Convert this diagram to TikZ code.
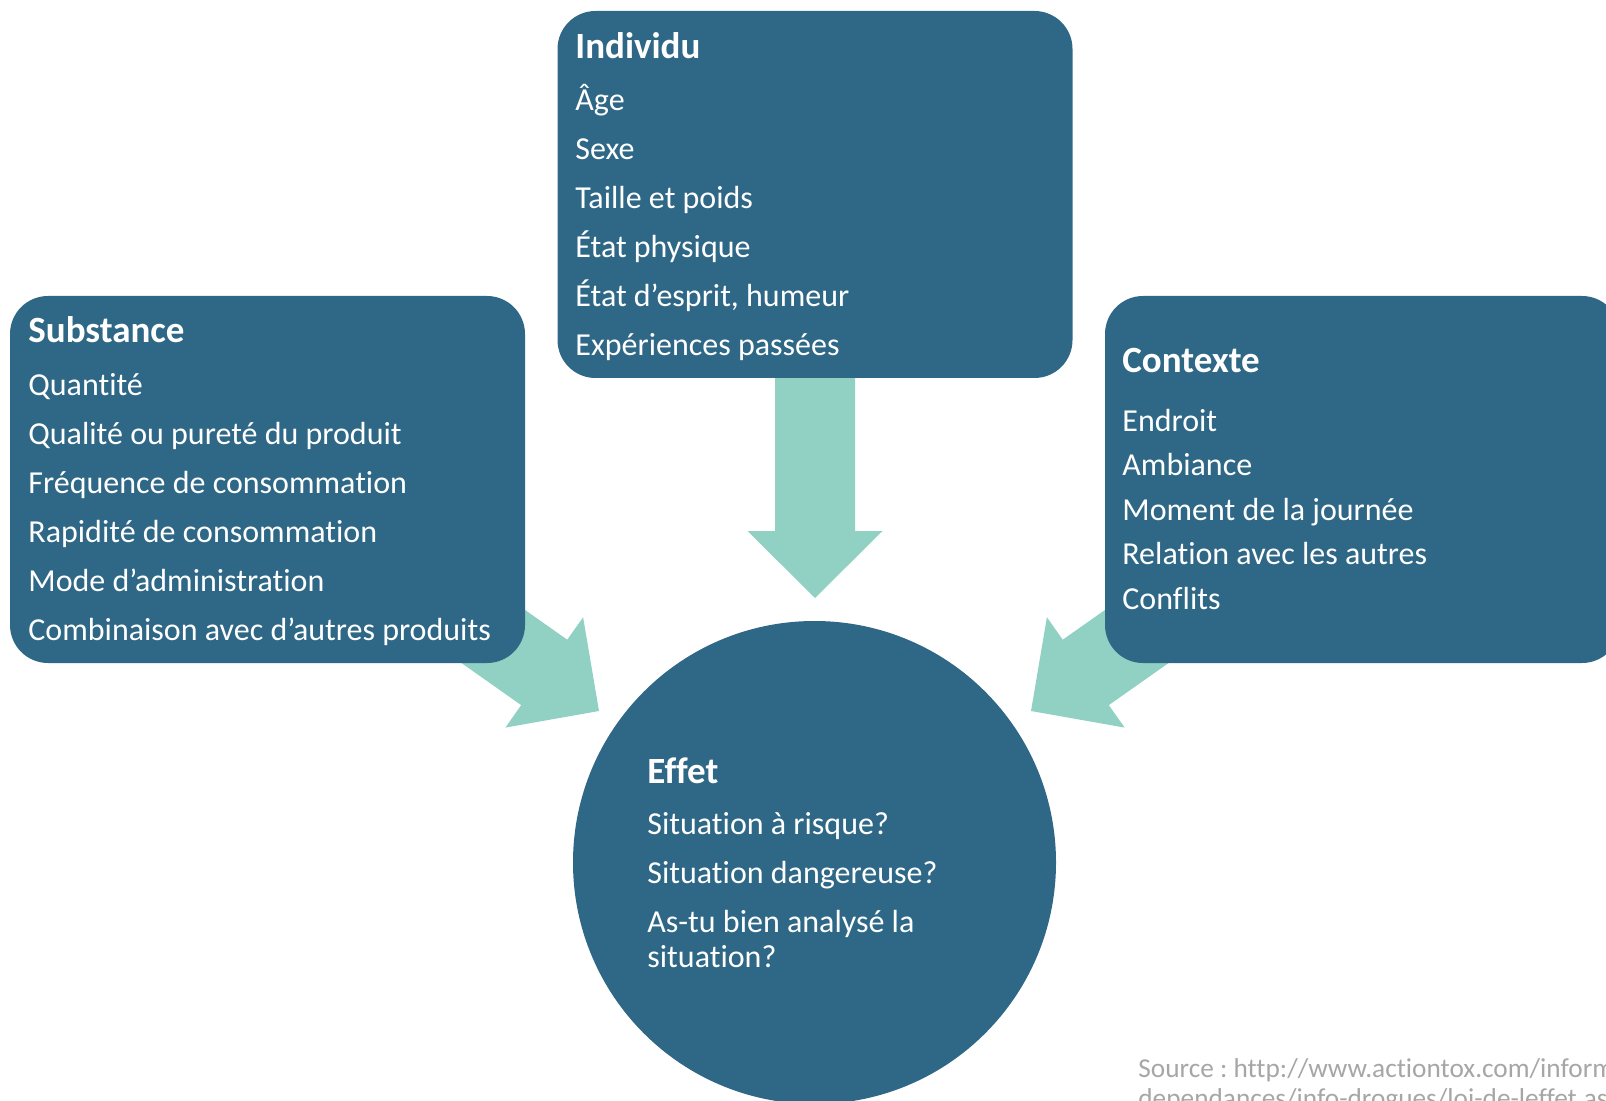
\documentclass[tikz,border=0pt]{standalone}
\usepackage{fontspec}
\setmainfont{Carlito}[Ligatures=NoCommon]
\frenchspacing
\usetikzlibrary{calc}
\definecolor{boxblue}{RGB}{47,104,134}
\definecolor{arrowteal}{RGB}{145,209,196}
\definecolor{srcgray}{RGB}{166,166,166}
\newcommand\ttl[1]{{\fontsize{18.5}{17.5}\selectfont\bfseries #1}}
\tikzset{panel/.style={rectangle, rounded corners=19pt, fill=boxblue, minimum width=257.5pt, minimum height=183.5pt, inner sep=0pt},
panel text/.style={anchor=base west, align=left, text=white, inner sep=0pt, font=\fontsize{16}{17.5}\selectfont},
%block arrows between panels and the effect
flow/.style={fill=arrowteal}}

\begin{document}
\begin{tikzpicture}[x=0.5pt, y=-0.5pt]

    \path[use as bounding box, clip] (0,0) rectangle (1606,1101);

    \coordinate (ind-s) at (815, 300);
    \coordinate (ind-t) at (815, 598);
    \coordinate (sub-s) at (396, 568);
    \coordinate (sub-t) at (599, 711);
    \coordinate (ctx-s) at (1234, 568);
    \coordinate (ctx-t) at (1031, 711);

    \foreach \s/\t in {ind-s/ind-t, sub-s/sub-t, ctx-s/ctx-t} {
    \coordinate (b) at ($(\t)!33.5pt!(\s)$);
    \fill[flow] ($(\s)!20pt!90:(\t)$) -- ($(b)!20pt!90:(\t)$) -- ($(b)!33.75pt!90:(\t)$) -- (\t)
        -- ($(b)!33.75pt!-90:(\t)$) -- ($(b)!20pt!-90:(\t)$) -- ($(\s)!20pt!-90:(\t)$) -- cycle;
    }

    \node[panel] (sub) at (267.5, 479.5) {};
    \node[panel] (ind) at (815, 194.5) {};
    \node[panel] (ctx) at (1362.5, 479.5) {};
    \node[circle, fill=boxblue, minimum size=241.5pt, inner sep=0pt] (eff) at (814.5, 862.5) {};

    % text nodes sit on the baseline of their last line
    \node[panel text] (sub-txt) at (28, 640) {\ttl{Substance}\\[9pt]
        Quantité\\[7pt] Qualité ou pureté du produit\\[7pt] Fréquence de consommation\\[7pt]
        Rapidité de consommation\\[7pt] Mode d’administration\\[7pt] Combinaison avec d’autres produits};
    \node[panel text] (ind-txt) at (575, 356) {\ttl{Individu}\\[8.5pt]
        Âge\\[7pt] Sexe\\[7pt] Taille et poids\\[7pt] État physique\\[7pt]
        État d’esprit, humeur\\[7pt] Expériences passées};
    \node[panel text] (ctx-txt) at (1122, 609) {\ttl{Contexte}\\[12pt]
        Endroit\\[4.75pt] Ambiance\\[4.75pt] Moment de la journée\\[4.75pt]
        Relation avec les autres\\[4.75pt] Conflits};
    \node[panel text] (eff-txt) at (647, 967) {\ttl{Effet}\\[8pt]
        Situation à risque?\\[7pt] Situation dangereuse?\\[7pt] As-tu bien analysé la\\ situation?};

    %\node at (eff) {};

    \node[anchor=base west, align=left, inner sep=0pt, text=srcgray, font=\fontsize{13.65}{14.75}\selectfont] (src) at (1138, 1107)
        {Source : http://www.actiontox.com/information-\\dependances/info-drogues/loi-de-leffet.asp};

  \end{tikzpicture}
\end{document}
